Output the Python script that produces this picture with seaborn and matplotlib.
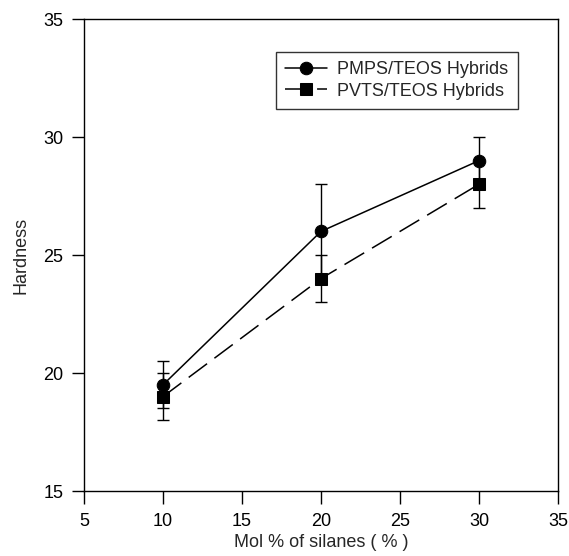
import matplotlib
matplotlib.use("Agg")
import matplotlib.pyplot as plt
import seaborn as sns
import pandas as pd

sns.set_theme(style="ticks")
plt.rcParams["font.family"] = ["Liberation Sans", "DejaVu Sans"]

mol_percent = [10, 20, 30]
pmps_hardness = [19.5, 26.0, 29.0]
pmps_error = [1.0, 2.0, 1.0]
pvts_hardness = [19.0, 24.0, 28.0]
pvts_error = [1.0, 1.0, 1.0]
series_names = ["PMPS/TEOS Hybrids", "PVTS/TEOS Hybrids"]

df = pd.DataFrame({
    "mol": mol_percent * 2,
    "hardness": pmps_hardness + pvts_hardness,
    "err": pmps_error + pvts_error,
    "series": [series_names[0]] * 3 + [series_names[1]] * 3,
})

fig = plt.figure(figsize=(5.69, 5.56), dpi=100)
ax = fig.add_axes([0.1476, 0.1169, 0.8331, 0.8489])

for name in series_names:
    sub = df[df["series"] == name]
    ax.errorbar(sub["mol"], sub["hardness"], yerr=sub["err"], fmt="none",
                ecolor="black", elinewidth=1.0, capsize=4, capthick=1.0, zorder=2)

sns.lineplot(data=df, x="mol", y="hardness", hue="series", style="series",
             palette=["black", "black"],
             markers={series_names[0]: "o", series_names[1]: "s"},
             dashes={series_names[0]: "", series_names[1]: (15, 6)},
             markersize=9, linewidth=1.1, markeredgecolor="black", ax=ax, zorder=3)

ax.set_xlim(5, 35)
ax.set_ylim(15, 35)
ax.set_xticks(range(5, 40, 5))
ax.set_yticks(range(15, 40, 5))
ax.tick_params(direction="out", length=9, width=1.0, labelsize=13, colors="black",
               top=False, right=False)
ax.tick_params(axis="x", pad=7)
ax.tick_params(axis="y", pad=6)
for s in ax.spines.values():
    s.set_visible(True)
    s.set_color("black")
    s.set_linewidth(1.0)

ax.set_xlabel("Mol % of silanes ( % )", fontsize=13, labelpad=3)
ax.set_ylabel("Hardness", fontsize=13, labelpad=10)

leg = ax.legend(title=None, loc="upper left", bbox_to_anchor=(0.405, 0.930),
                borderaxespad=0, fontsize=13, frameon=True, fancybox=False,
                edgecolor="black", handlelength=2.3, borderpad=0.5,
                labelspacing=0.25, handletextpad=0.6)
leg.get_frame().set_linewidth(1.0)

fig.savefig("out.png", dpi=100)
